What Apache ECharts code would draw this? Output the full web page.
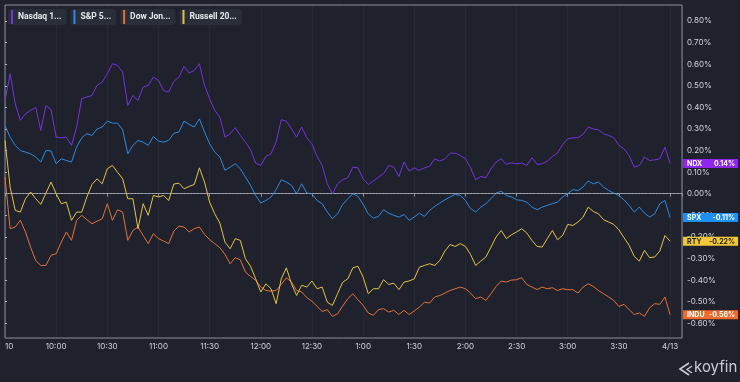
<!DOCTYPE html>
<html><head><meta charset="utf-8">
<script src="https://cdn.jsdelivr.net/npm/echarts@6/dist/echarts.min.js"></script>
<style>html,body{margin:0;padding:0;background:#1f222c;}#c{width:740px;height:382px;}</style>
</head><body><div id="c"></div>
<script>
const STEP_MIN = 3; // sampling step of the series, minutes after 9:30
const xTickLabels = ['10','10:00','10:30','11:00','11:30','12:00','12:30','1:00','1:30','2:00','2:30','3:00','3:30','4/13'];
const yTicks = [-0.6,-0.5,-0.4,-0.3,-0.2,-0.1,0,0.1,0.2,0.3,0.4,0.5,0.6,0.7,0.8];
const seriesNames = ['Nasdaq 100','S&P 500','Dow Jones Industrial Average','Russell 2000'];
const legendLabels = ['Nasdaq 1...','S&P 5...','Dow Jon...','Russell 20...'];
const tickers = ['NDX','SPX','INDU','RTY'];

const ndx = [0.432,0.556,0.417,0.34,0.37,0.386,0.40,0.293,0.409,0.389,
0.262,0.259,0.262,0.224,0.309,0.44,0.448,0.455,0.502,0.517,
0.556,0.602,0.594,0.563,0.409,0.455,0.432,0.494,0.502,0.54,
0.525,0.478,0.471,0.52,0.54,0.59,0.559,0.571,0.602,0.502,
0.44,0.386,0.355,0.262,0.278,0.306,0.27,0.239,0.204,0.142,
0.131,0.173,0.185,0.239,0.343,0.336,0.30,0.262,0.309,0.259,
0.231,0.173,0.131,0.046,0.0,0.046,0.065,0.074,0.123,0.12,
0.069,0.043,0.059,0.077,0.093,0.131,0.123,0.08,0.147,0.105,
0.12,0.108,0.12,0.127,0.162,0.151,0.162,0.188,0.188,0.177,
0.162,0.12,0.065,0.08,0.074,0.116,0.147,0.162,0.136,0.143,
0.139,0.142,0.131,0.167,0.136,0.139,0.15,0.173,0.188,0.228,
0.255,0.259,0.259,0.275,0.309,0.30,0.296,0.278,0.27,0.259,
0.224,0.208,0.177,0.123,0.131,0.17,0.154,0.157,0.162,0.216,0.14];

const spx = [0.316,0.262,0.224,0.20,0.193,0.185,0.17,0.147,0.20,0.198,
0.139,0.162,0.154,0.147,0.216,0.259,0.278,0.27,0.30,0.309,
0.336,0.327,0.327,0.296,0.185,0.224,0.247,0.239,0.224,0.265,
0.244,0.239,0.247,0.28,0.286,0.336,0.321,0.309,0.347,0.286,
0.231,0.193,0.17,0.108,0.123,0.139,0.116,0.077,0.039,-0.008,
-0.043,-0.031,-0.015,0.019,0.065,0.054,0.039,0.0,0.046,0.003,
0.0,-0.031,-0.046,-0.085,-0.116,-0.093,-0.05,-0.023,0.0,-0.012,
-0.049,-0.093,-0.113,-0.105,-0.074,-0.09,-0.10,-0.108,-0.096,-0.123,
-0.108,-0.09,-0.105,-0.077,-0.059,-0.043,-0.028,-0.015,-0.003,-0.008,
-0.031,-0.069,-0.085,-0.062,-0.046,-0.023,0.003,0.012,-0.008,-0.015,
-0.028,-0.031,-0.039,-0.062,-0.074,-0.062,-0.054,-0.046,-0.039,-0.015,
0.0,0.019,0.015,0.031,0.059,0.046,0.054,0.031,0.015,0.003,
-0.008,-0.028,-0.054,-0.085,-0.062,-0.09,-0.108,-0.093,-0.046,-0.031,-0.11];

const indu = [0.077,-0.162,-0.154,-0.123,-0.177,-0.247,-0.309,-0.332,-0.332,-0.285,
-0.278,-0.224,-0.177,-0.216,-0.123,-0.10,-0.12,-0.139,-0.127,-0.116,
-0.046,-0.123,-0.074,-0.085,-0.216,-0.17,-0.154,-0.193,-0.231,-0.185,
-0.208,-0.219,-0.231,-0.173,-0.15,-0.154,-0.177,-0.162,-0.154,-0.188,
-0.213,-0.231,-0.25,-0.281,-0.324,-0.296,-0.306,-0.363,-0.383,-0.401,
-0.432,-0.448,-0.451,-0.448,-0.42,-0.389,-0.409,-0.448,-0.455,-0.481,
-0.497,-0.522,-0.545,-0.537,-0.568,-0.556,-0.52,-0.486,-0.463,-0.491,
-0.517,-0.552,-0.563,-0.537,-0.532,-0.548,-0.54,-0.559,-0.54,-0.559,
-0.543,-0.525,-0.502,-0.506,-0.478,-0.471,-0.46,-0.448,-0.44,-0.432,
-0.44,-0.46,-0.486,-0.478,-0.494,-0.463,-0.429,-0.404,-0.409,-0.40,
-0.398,-0.389,-0.42,-0.432,-0.444,-0.432,-0.44,-0.435,-0.448,-0.44,
-0.444,-0.444,-0.46,-0.432,-0.417,-0.429,-0.448,-0.463,-0.478,-0.494,
-0.522,-0.512,-0.537,-0.559,-0.552,-0.568,-0.528,-0.509,-0.512,-0.478,-0.56];

const rty = [0.247,0.031,-0.077,-0.085,-0.023,0.008,-0.023,-0.049,0.003,0.054,
0.0,-0.046,-0.039,-0.123,-0.085,-0.085,-0.015,0.043,0.069,0.046,
0.116,0.131,0.10,0.069,-0.023,-0.023,-0.162,-0.046,-0.10,-0.008,
-0.015,-0.008,-0.031,0.045,0.049,0.023,0.034,0.043,0.12,0.054,
-0.039,-0.093,-0.136,-0.224,-0.255,-0.208,-0.216,-0.301,-0.336,-0.394,
-0.455,-0.417,-0.44,-0.509,-0.394,-0.343,-0.417,-0.471,-0.424,-0.432,
-0.404,-0.44,-0.432,-0.502,-0.517,-0.463,-0.41,-0.394,-0.343,-0.336,
-0.386,-0.463,-0.44,-0.44,-0.398,-0.42,-0.414,-0.444,-0.409,-0.404,
-0.394,-0.34,-0.332,-0.324,-0.332,-0.309,-0.265,-0.235,-0.244,-0.231,
-0.244,-0.281,-0.332,-0.312,-0.293,-0.247,-0.20,-0.17,-0.208,-0.19,
-0.177,-0.162,-0.182,-0.216,-0.244,-0.247,-0.208,-0.17,-0.213,-0.193,
-0.142,-0.147,-0.131,-0.108,-0.062,-0.082,-0.093,-0.12,-0.131,-0.142,
-0.167,-0.204,-0.239,-0.29,-0.312,-0.262,-0.296,-0.293,-0.265,-0.193,-0.22];

const seriesValues = [ndx, spx, indu, rty];
const lineColors = ['#7433dc','#2f8ae0','#e2713a','#e2c344'];
const boxColors = ['#8e26f0','#1e90f2','#f06a2c','#f3c838'];
const boxText = ['#ffffff','#ffffff','#ffffff','#1a1d26'];
const FONT = 'Inter, Roboto, "Noto Sans", sans-serif';
const LEGEND_FONT = 'Roboto, "Noto Sans", sans-serif';

const chart = echarts.init(document.getElementById('c'), null, {renderer:'canvas'});

const legendRich = { t: { color:'#e8eaef', fontSize:8.5, fontWeight:'bold', fontFamily:LEGEND_FONT, padding:[0,0,0,5] } };
lineColors.forEach((c,k)=>{ legendRich['b'+k] = { width:2, height:14, backgroundColor:c }; });

const series = seriesValues.map((vals,k)=>({
  name: seriesNames[k],
  type: 'line',
  data: vals.map((v,i)=>[i*STEP_MIN, v]),
  showSymbol: false,
  symbol: 'none',
  smooth: false,
  lineStyle: { width: 1, color: lineColors[k] },
  itemStyle: { color: lineColors[k] },
  z: 2 + k,
  endLabel: {
    show: true,
    distance: 13,
    formatter: p => `{t|${tickers[k]}}{v|${p.value[1].toFixed(2)}%}`,
    backgroundColor: boxColors[k],
    padding: [1,3,0,4],
    rich: {
      t: { width:23, color: boxText[k], fontSize:7, fontWeight:'bold', fontFamily:FONT, lineHeight:8 },
      v: { width:25, align:'right', color: boxText[k], fontSize:7, fontWeight:'bold', fontFamily:FONT, lineHeight:8 }
    }
  },
  markLine: k === 0 ? {
    silent: true, symbol: 'none', label: { show:false },
    lineStyle: { type:[1.5,2], color:'#a3a8b1', width:1 },
    data: [{ yAxis: 0 }]
  } : undefined
}));

chart.setOption({
  animation: false,
  backgroundColor: '#1f222c',
  grid: { left:5, right:58, top:5, bottom:44, show:true, borderColor:'#8a8f99', borderWidth:1 },
  legend: {
    left: 3, top: 9, padding: 0, icon: 'none', itemWidth: 0, itemHeight: 0, itemGap: -1,
    selectedMode: false,
    data: seriesNames,
    formatter: name => { const k = seriesNames.indexOf(name); return `{b${k}|}{t|${legendLabels[k]}}`; },
    textStyle: { backgroundColor:'#2a2e39', borderRadius:3, padding:[1,5,1,3], rich: legendRich }
  },
  xAxis: {
    type: 'value', min: 0, max: 397, interval: 30,
    axisLine: { show: true, lineStyle: { color:'#8a8f99' } },
    axisTick: { show: true, length: 3, lineStyle: { color:'#8a8f99' } },
    axisLabel: {
      color:'#d2d5db', fontSize:8, fontFamily:FONT, margin:5, alignMinLabel:'left',
      formatter: v => (v % 30 === 0 ? (xTickLabels[v/30] || '') : '')
    },
    splitLine: { show: true, lineStyle: { color:'rgba(255,255,255,0.035)' } }
  },
  yAxis: {
    type: 'value', position: 'right', min: -0.668, max: 0.874,
    axisLine: { show: false },
    axisTick: { show: true, customValues: yTicks, length: 2, lineStyle: { color:'#b3b7bf' } },
    axisLabel: { customValues: yTicks, color:'#d2d5db', fontSize:8, fontFamily:FONT, margin:5,
      formatter: v => v.toFixed(2) + '%' },
    splitLine: { show: false }
  },
  graphic: [
    { type:'polyline', shape:{ points:[[689,363],[680,369],[689,375]] }, style:{ stroke:'#c8ccd3', lineWidth:1.6, fill:null } },
    { type:'polyline', shape:{ points:[[692,366],[687,369.5],[692,373]] }, style:{ stroke:'#c8ccd3', lineWidth:1.4, fill:null } },
    { type:'text', left: 694, top: 360, style:{ text:'koyfin', fill:'#c8ccd3', font:'15px ' + FONT } }
  ],
  series: series
});
</script></body></html>
